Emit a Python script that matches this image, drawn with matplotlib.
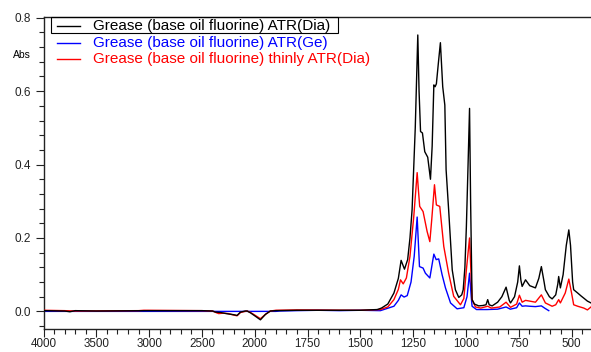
import matplotlib
matplotlib.use("Agg")
import matplotlib.pyplot as plt
from matplotlib.lines import Line2D
from matplotlib.patches import Rectangle
import numpy as np

plt.rcParams['font.family'] = ['Liberation Sans', 'DejaVu Sans']

labels = ['Grease (base oil fluorine) ATR(Dia)',
          'Grease (base oil fluorine) ATR(Ge)',
          'Grease (base oil fluorine) thinly ATR(Dia)']
colors = ['#000000', '#0000ff', '#ff0000']

# ATR(Dia)
wn_dia = [4000, 3800, 3750, 3700, 3500, 3000, 2500, 2400, 2370, 2325, 2250, 2200, 2167,
          2135, 2090, 2072, 2040, 2000, 1973, 1949, 1926, 1900, 1800, 1700, 1600, 1500,
          1420, 1400, 1370, 1341, 1320, 1307, 1291, 1276, 1265, 1255, 1240, 1228, 1222,
          1215, 1206, 1195, 1181, 1168, 1160, 1152, 1146, 1140, 1130, 1121, 1110, 1100,
          1094, 1082, 1065, 1050, 1034, 1020, 1013, 1005, 998, 990, 983, 978, 971, 960,
          940, 920, 905, 897, 890, 876, 850, 830, 810, 795, 789, 770, 755, 747, 740, 734,
          718, 698, 671, 655, 643, 630, 624, 605, 592, 575, 565, 561, 553, 540, 525, 513,
          505, 495, 490, 471, 455, 442, 425, 408]
abs_dia = [0.002, 0.001, -0.001, 0.002, 0.001, 0.002, 0.002, 0.001, -0.002, -0.003,
           -0.007, -0.009, -0.011, -0.002, 0.001, 0.001, -0.004, -0.012, -0.023, -0.008,
           0.001, 0.002, 0.003, 0.003, 0.003, 0.003, 0.005, 0.009, 0.02, 0.05, 0.09, 0.139,
           0.115, 0.141, 0.2, 0.277, 0.5, 0.753, 0.6, 0.49, 0.486, 0.435, 0.42, 0.36, 0.45,
           0.617, 0.612, 0.62, 0.68, 0.732, 0.612, 0.562, 0.386, 0.277, 0.113, 0.059, 0.038,
           0.045, 0.059, 0.12, 0.231, 0.4, 0.553, 0.3, 0.032, 0.02, 0.015, 0.016, 0.018,
           0.032, 0.018, 0.015, 0.025, 0.04, 0.066, 0.03, 0.023, 0.04, 0.08, 0.124, 0.085,
           0.068, 0.086, 0.07, 0.064, 0.09, 0.122, 0.08, 0.059, 0.04, 0.034, 0.045, 0.075,
           0.095, 0.064, 0.1, 0.18, 0.222, 0.18, 0.08, 0.059, 0.05, 0.042, 0.036, 0.028,
           0.023]

# ATR(Ge)
wn_ge = [4000, 3000, 2000, 1900, 1880, 1800, 1700, 1600, 1500, 1405, 1341, 1320, 1307,
         1293, 1278, 1260, 1245, 1231, 1220, 1203, 1192, 1171, 1152, 1141, 1129, 1113,
         1097, 1073, 1042, 1010, 995, 983, 975, 971, 950, 900, 850, 810, 790, 760, 747,
         734, 718, 698, 671, 643, 625, 608]
abs_ge = [0.0, 0.0, 0.0, 0.0, 0.001, 0.002, 0.003, 0.002, 0.003, 0.002, 0.014, 0.03,
          0.045, 0.039, 0.043, 0.08, 0.15, 0.257, 0.122, 0.118, 0.104, 0.091, 0.156, 0.141,
          0.143, 0.1, 0.064, 0.023, 0.007, 0.01, 0.04, 0.104, 0.04, 0.014, 0.005, 0.005,
          0.006, 0.012, 0.006, 0.01, 0.023, 0.014, 0.015, 0.014, 0.013, 0.015, 0.008, 0.002]

# thinly ATR(Dia)
wn_thin = [4000, 3800, 3700, 3100, 3050, 2500, 2400, 2360, 2341, 2300, 2250, 2200, 2167,
           2135, 2090, 2072, 2040, 2000, 1973, 1949, 1926, 1900, 1800, 1500, 1405, 1370,
           1341, 1320, 1310, 1297, 1282, 1265, 1247, 1231, 1225, 1219, 1203, 1184, 1171,
           1162, 1149, 1140, 1124, 1105, 1082, 1058, 1026, 1010, 998, 983, 971, 955, 930,
           897, 880, 840, 810, 789, 760, 747, 734, 718, 698, 671, 643, 624, 592, 575, 561,
           553, 530, 513, 500, 490, 471, 442, 425, 408]
abs_thin = [0.003, 0.002, 0.001, 0.002, 0.003, 0.002, 0.001, -0.004, -0.006, -0.005,
            -0.006, -0.01, -0.012, -0.003, 0.0, 0.001, -0.003, -0.01, -0.02, -0.008, 0.001,
            0.003, 0.004, 0.003, 0.005, 0.012, 0.032, 0.06, 0.086, 0.075, 0.091, 0.15, 0.259,
            0.378, 0.33, 0.286, 0.272, 0.218, 0.19, 0.25, 0.345, 0.29, 0.286, 0.177, 0.104,
            0.041, 0.018, 0.035, 0.113, 0.2, 0.032, 0.012, 0.009, 0.014, 0.009, 0.012, 0.025,
            0.011, 0.02, 0.044, 0.025, 0.03, 0.028, 0.025, 0.045, 0.023, 0.014, 0.018, 0.032,
            0.023, 0.05, 0.088, 0.05, 0.018, 0.014, 0.009, 0.004, 0.012]


# wavenumber axis: 4000-2000 compressed by 2
def fwd(w):
    w = np.asarray(w, dtype=float)
    return np.where(w > 2000, 2000 + (w - 2000) / 2, w)


def inv(u):
    u = np.asarray(u, dtype=float)
    return np.where(u > 2000, 2000 + (u - 2000) * 2, u)


fig = plt.figure(figsize=(5.91, 3.52), dpi=100)
W, H = 591, 352
ax = fig.add_axes([43.5 / W, 23 / H, 1 - 43.5 / W, (329 - 17) / H])
ax.set_xscale('function', functions=(fwd, inv))

series = [(wn_dia, abs_dia), (wn_ge, abs_ge), (wn_thin, abs_thin)]
zs = [4, 2, 3]
for (x, y), c, z in zip(series, colors, zs):
    ax.plot(x, y, color=c, lw=1.0, zorder=z)

ax.set_xlim(4000, 408)
ax.set_ylim(-0.048, 0.802)

major_x = [4000, 3500, 3000, 2500, 2000, 1750, 1500, 1250, 1000, 750, 500]
minor_x = list(range(4000, 2000, -100)) + list(range(2000, 400, -50))
ax.set_xticks(major_x)
ax.set_xticklabels([str(v) for v in major_x])
ax.set_xticks(minor_x, minor=True)
ax.set_yticks([0.0, 0.2, 0.4, 0.6, 0.8])
ax.set_yticklabels(['0.0', '0.2', '0.4', '0.6', '0.8'])
ax.set_yticks(np.arange(-0.04, 0.8, 0.04), minor=True)

ax.tick_params(axis='both', which='major', direction='out', length=5.5, width=0.8,
               labelsize=8.5, colors='#222222', labelcolor='#222222')
ax.tick_params(axis='both', which='minor', direction='out', length=3.3, width=0.8,
               colors='#222222')
ax.tick_params(axis='x', labelsize=8.4, pad=1)
ax.spines['right'].set_visible(False)
for s in ['left', 'bottom', 'top']:
    ax.spines[s].set_linewidth(1.0)
    ax.spines[s].set_color('#222222')

fig.text(22 / W, 1 - 55 / H, 'Abs', fontsize=7.5, ha='center', va='center')

# legend drawn by hand, first entry boxed
rows = [25.7, 42.7, 59.0]
for lab, c, yp in zip(labels, colors, rows):
    fy = 1 - yp / H
    fig.add_artist(Line2D([57 / W, 80 / W], [fy, fy], color=c, lw=1.0,
                          transform=fig.transFigure))
    fig.text(93 / W, fy, lab, color=c, fontsize=11, ha='left', va='center')
fig.add_artist(Rectangle((50.5 / W, 1 - 32.5 / H), 287 / W, 15.5 / H, fill=False,
                         edgecolor='#000000', lw=0.8, transform=fig.transFigure))

fig.savefig('out.png', dpi=100)
